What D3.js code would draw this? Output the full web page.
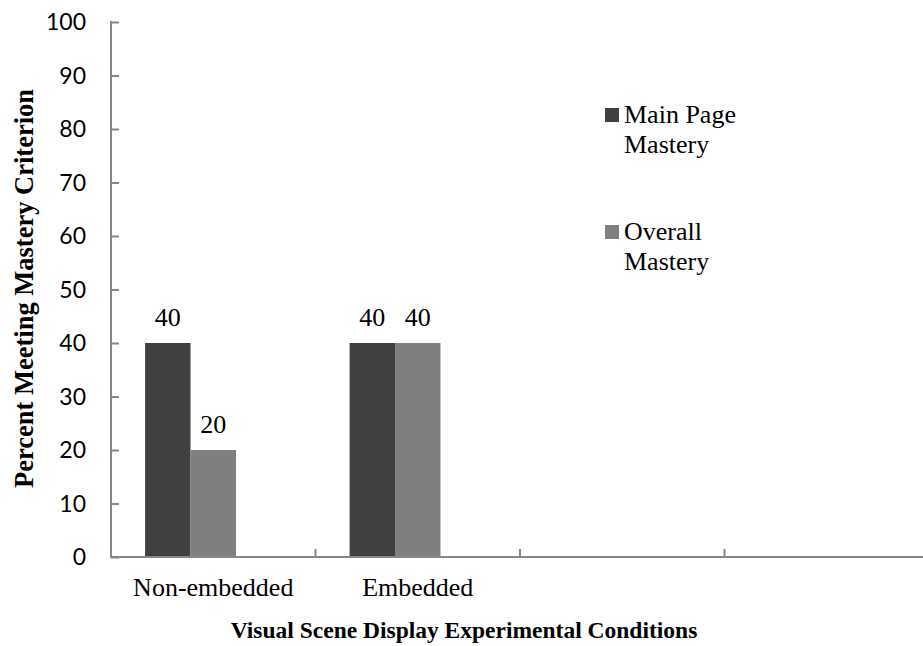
<!DOCTYPE html>
<html>
<head>
<meta charset="utf-8">
<script src="https://cdn.jsdelivr.net/npm/d3@7"></script>
<style>
  html, body { margin: 0; padding: 0; background: #ffffff; }
  svg { display: block; }
</style>
</head>
<body>
<svg id="chart" width="923" height="646"></svg>
<script>
// Condition slots along the x axis (the last two are left unlabeled)
const categories = ["Non-embedded", "Embedded", "", ""];
// Series names and values (percent of participants meeting mastery)
const seriesNames = ["Main Page Mastery", "Overall Mastery"];
const mainPageMastery = [40, 40];
const overallMastery = [20, 40];
const seriesColors = ["#404040", "#7f7f7f"];
// Y tick values
const yTicks = [0, 10, 20, 30, 40, 50, 60, 70, 80, 90, 100];

const seriesValues = [mainPageMastery, overallMastery];

const svg = d3.select("#chart");
const axisColor = "#878787";
const serif = "'Liberation Serif', 'Times New Roman', serif";
const sans = "Lato, 'Open Sans', sans-serif";

const plot = { left: 111, top: 22, bottom: 557 };
const slotWidth = 204.5;

const x0 = d3.scaleBand()
  .domain(d3.range(categories.length))
  .range([plot.left, plot.left + slotWidth * categories.length])
  .paddingInner(0).paddingOuter(0);

// each group leaves room for three bars side by side
const x1 = d3.scaleBand()
  .domain(d3.range(3))
  .range([0, x0.bandwidth()])
  .paddingInner(0)
  .paddingOuter(0.75);

const y = d3.scaleLinear().domain([0, 100]).range([plot.bottom, plot.top]);

// bars
const rows = [];
seriesValues.forEach((vals, s) => {
  vals.forEach((v, i) => rows.push({ s, i, v }));
});

svg.append("g").selectAll("rect")
  .data(rows)
  .join("rect")
  .attr("x", d => x0(d.i) + x1(d.s))
  .attr("y", d => y(d.v))
  .attr("width", x1.bandwidth())
  .attr("height", d => y(0) - y(d.v))
  .attr("fill", d => seriesColors[d.s]);

// value labels
svg.append("g").selectAll("text")
  .data(rows)
  .join("text")
  .attr("x", d => x0(d.i) + x1(d.s) + x1.bandwidth() / 2)
  .attr("y", d => y(d.v) - 17)
  .attr("text-anchor", "middle")
  .attr("font-family", serif)
  .attr("font-size", 26)
  .attr("fill", "#000")
  .text(d => d.v);

// y axis
const yAxis = svg.append("g")
  .attr("transform", `translate(${plot.left},0)`)
  .call(d3.axisRight(y).tickValues(yTicks).tickSize(8).tickFormat(""));
yAxis.select(".domain").remove();
yAxis.selectAll(".tick line").attr("stroke", axisColor).attr("stroke-width", 2);
svg.append("line")
  .attr("x1", plot.left).attr("x2", plot.left)
  .attr("y1", y(100) - 1).attr("y2", y(0) + 1)
  .attr("stroke", axisColor).attr("stroke-width", 2);

svg.append("g").selectAll("text")
  .data(yTicks)
  .join("text")
  .attr("x", 86)
  .attr("y", d => y(d))
  .attr("dy", "0.35em")
  .attr("text-anchor", "end")
  .attr("font-family", sans)
  .attr("font-size", 23)
  .attr("fill", "#000")
  .text(d => d);

// x axis with tick marks on slot boundaries
const xEnd = x0.range()[1];
svg.append("line")
  .attr("x1", plot.left - 1).attr("x2", xEnd)
  .attr("y1", y(0)).attr("y2", y(0))
  .attr("stroke", axisColor).attr("stroke-width", 2);

svg.append("g").selectAll("line")
  .data(d3.range(1, categories.length + 1))
  .join("line")
  .attr("x1", i => x0.range()[0] + i * x0.step())
  .attr("x2", i => x0.range()[0] + i * x0.step())
  .attr("y1", y(0))
  .attr("y2", y(0) - 8)
  .attr("stroke", axisColor).attr("stroke-width", 2);

svg.append("g").selectAll("text")
  .data(categories.map((c, i) => ({ c, i })).filter(d => d.c))
  .join("text")
  .attr("x", d => x0(d.i) + x0.bandwidth() / 2)
  .attr("y", 596)
  .attr("text-anchor", "middle")
  .attr("font-family", serif)
  .attr("font-size", 26)
  .attr("fill", "#000")
  .text(d => d.c);

// axis titles
svg.append("text")
  .attr("x", 464)
  .attr("y", 638)
  .attr("text-anchor", "middle")
  .attr("font-family", serif)
  .attr("font-weight", "bold")
  .attr("font-size", 23.5)
  .attr("fill", "#000")
  .text("Visual Scene Display Experimental Conditions");

svg.append("text")
  .attr("transform", "translate(33,288.5) rotate(-90)")
  .attr("text-anchor", "middle")
  .attr("font-family", serif)
  .attr("font-weight", "bold")
  .attr("font-size", 26.5)
  .attr("fill", "#000")
  .text("Percent Meeting Mastery Criterion");

// legend
const legendItems = [
  { lines: ["Main Page", "Mastery"], top: 108 },
  { lines: ["Overall", "Mastery"], top: 225 }
];
const legend = svg.append("g");
legendItems.forEach((item, s) => {
  legend.append("rect")
    .attr("x", 605).attr("y", item.top)
    .attr("width", 14).attr("height", 14)
    .attr("fill", seriesColors[s]);
  const t = legend.append("text")
    .attr("font-family", serif)
    .attr("font-size", 26)
    .attr("fill", "#000");
  item.lines.forEach((ln, k) => {
    t.append("tspan")
      .attr("x", 624)
      .attr("y", item.top + 15 + k * 30)
      .text(ln);
  });
});
</script>
</body>
</html>
